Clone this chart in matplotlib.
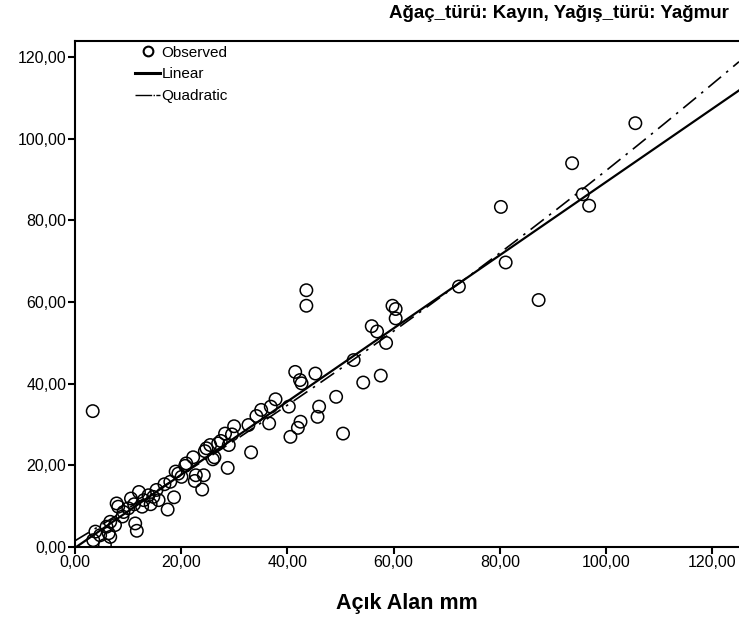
import matplotlib.pyplot as plt
import numpy as np
from matplotlib.ticker import FuncFormatter
from matplotlib.lines import Line2D

acik_alan = [3.4, 105.5, 93.6, 80.2, 95.6, 96.8, 81.1, 72.3, 87.3, 43.6,
             43.6, 59.8, 60.4, 60.4, 55.9, 56.9, 58.6, 52.5, 41.5, 45.3,
             42.4, 42.7, 54.3, 57.6, 49.2, 40.3, 37.8, 36.9, 35.1, 34.2,
             36.6, 46.0, 45.7, 42.5, 42.0, 40.6, 50.5, 33.2, 32.7, 30.0,
             28.3, 29.6, 29.0, 27.0, 28.8, 24.8, 24.5, 26.3, 22.3, 20.8,
             19.5, 20.1, 22.8, 24.3, 22.6, 24.0, 18.7, 17.5, 16.9, 15.4,
             14.8, 15.8, 13.9, 14.3, 12.7, 12.1, 10.6, 11.2, 7.9, 8.2,
             10.1, 9.2, 11.4, 11.7, 7.6, 6.0, 6.4, 3.9, 3.5, 5.7,
             6.7, 4.8, 6.7, 19.0, 25.5, 27.5, 18.0, 13.0, 9.0, 26.0, 21.0]
yagmur = [33.3, 103.8, 94.0, 83.3, 86.4, 83.6, 69.7, 63.8, 60.5, 62.9,
          59.1, 59.1, 58.3, 56.0, 54.1, 52.8, 50.0, 45.8, 42.9, 42.5,
          40.9, 40.1, 40.3, 42.0, 36.8, 34.4, 36.2, 34.4, 33.6, 32.1,
          30.3, 34.4, 31.9, 30.7, 29.2, 27.0, 27.8, 23.2, 29.9, 29.6,
          27.8, 27.6, 25.0, 25.4, 19.4, 24.2, 23.5, 22.0, 22.0, 19.9,
          18.0, 17.2, 17.6, 17.6, 16.2, 14.1, 12.2, 9.2, 15.4, 14.0,
          12.3, 11.5, 12.7, 10.5, 9.9, 13.5, 11.9, 10.5, 10.7, 9.9,
          9.5, 8.6, 5.8, 4.0, 5.4, 5.0, 3.4, 3.8, 1.7, 0.5,
          2.5, 2.9, 6.2, 18.5, 25.0, 26.0, 16.0, 11.5, 7.5, 21.5, 20.5]

title = "Ağaç_türü: Kayın, Yağış_türü: Yağmur"
xlabel = "Açık Alan mm"
ticks = [0, 20, 40, 60, 80, 100, 120]

plt.rcParams["font.family"] = ["Liberation Sans", "DejaVu Sans"]

x = np.array(acik_alan)
y = np.array(yagmur)

# curve estimation fits
lin = np.polyfit(x, y, 1)
quad = np.polyfit(x, y, 2)
xs = np.linspace(0, 125, 300)

fig = plt.figure(figsize=(7.39, 6.26), dpi=100)
ax = fig.add_axes([0.101, 0.126, 0.899, 0.809])

ax.scatter(x, y, s=80, facecolors="none", edgecolors="black", linewidths=1.1,
           zorder=3)
ax.plot(xs, np.polyval(lin, xs), color="black", lw=1.6, zorder=2)
ax.plot(xs, np.polyval(quad, xs), color="black", lw=1.2,
        dashes=(10, 4, 1.5, 4), zorder=2)

ax.set_xlim(0, 125)
ax.set_ylim(0, 124)
ax.set_xticks(ticks)
ax.set_yticks(ticks)
fmt = FuncFormatter(lambda v, p: f"{v:.2f}".replace(".", ","))
ax.xaxis.set_major_formatter(fmt)
ax.yaxis.set_major_formatter(fmt)
ax.tick_params(direction="out", length=5, width=1.5, labelsize=11.5, pad=1)
ax.spines["right"].set_visible(False)
for s in ["left", "top", "bottom"]:
    ax.spines[s].set_linewidth(1.5)

ax.set_xlabel(xlabel, fontsize=15.5, fontweight="bold", labelpad=16)
fig.text(0.986, 0.978, title, ha="right", va="center", fontsize=13.5,
         fontweight="bold")

handles = [
    Line2D([], [], ls="none", marker="o", mfc="none", mec="black", ms=7,
           mew=1.5),
    Line2D([], [], color="black", lw=2.2),
    Line2D([], [], color="black", lw=1, dashes=(12, 1, 1, 1)),
]
ax.legend(handles, ["Observed", "Linear", "Quadratic"], loc="upper left",
          bbox_to_anchor=(0.08, 1.005), frameon=False, fontsize=11,
          handlelength=1.6, handletextpad=0.1, labelspacing=0.5,
          borderpad=0)

fig.savefig("out.png", dpi=100)
